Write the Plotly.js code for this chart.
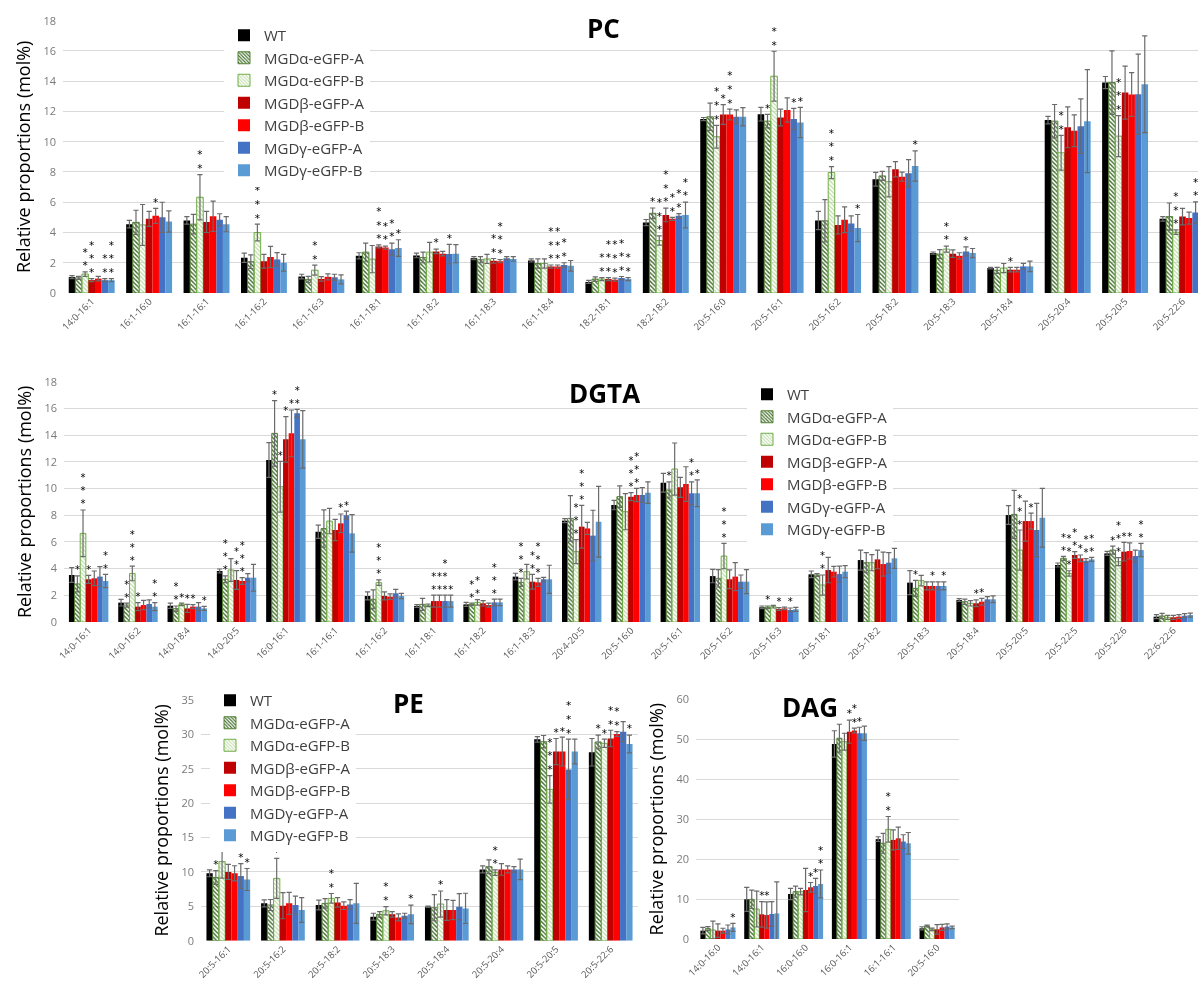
<!DOCTYPE html>
<html><head><meta charset="utf-8">
<script src="https://cdn.plot.ly/plotly-3.0.1.min.js"></script>
<style>
html,body{margin:0;padding:0;background:#fff}
#chart{width:1198px;height:988px;will-change:transform;opacity:0.999}
</style>
</head><body><div id="chart"></div>
<script>
// ---------- series ----------
const seriesNames = ['WT','MGDα-eGFP-A','MGDα-eGFP-B','MGDβ-eGFP-A','MGDβ-eGFP-B','MGDγ-eGFP-A','MGDγ-eGFP-B'];

// ---------- PC ----------
const pcCategories = ['14:0-16:1','16:1-16:0','16:1-16:1','16:1-16:2','16:1-16:3','16:1-18:1','16:1-18:2','16:1-18:3','16:1-18:4','18:2-18:1','18:2-18:2','20:5-16:0','20:5-16:1','20:5-16:2','20:5-18:2','20:5-18:3','20:5-18:4','20:5-20:4','20:5-20:5','20:5-22:6'];
const pcValues = [
  [1.05,4.55,4.8,2.33,1.09,2.46,2.48,2.3,2.15,0.73,4.66,11.5,11.82,4.79,7.52,2.64,1.65,11.43,13.91,4.9],
  [1.0,4.67,4.55,2.07,0.9,2.7,2.35,2.2,1.95,0.92,5.27,11.65,11.36,4.77,7.74,2.57,1.5,11.36,13.91,5.05],
  [1.25,4.5,6.33,4.0,1.51,2.24,2.7,2.25,1.95,0.92,3.47,10.33,14.33,7.96,7.36,2.9,1.65,9.27,10.37,4.02],
  [0.85,4.9,4.7,2.1,0.93,3.08,2.75,2.13,1.75,0.92,5.16,11.8,11.6,4.5,8.18,2.6,1.54,10.95,13.25,5.05],
  [0.95,5.1,5.07,2.38,1.07,3.0,2.6,2.1,1.75,0.88,4.9,11.8,12.1,4.84,7.69,2.46,1.54,10.73,13.12,4.95],
  [0.85,5.0,4.84,2.22,1.04,2.9,2.57,2.3,1.85,0.99,5.1,11.65,11.5,4.6,7.91,2.75,1.76,11.03,13.14,5.32],
  [0.85,4.73,4.55,2.0,0.9,2.97,2.6,2.25,1.8,0.92,5.16,11.65,11.27,4.29,8.4,2.64,1.76,11.36,13.8,5.4]
];
const pcErrors = [
  [0.1,0.25,0.25,0.3,0.15,0.2,0.15,0.1,0.1,0.1,0.2,0.1,0.45,0.6,0.45,0.07,0.05,0.25,0.4,0.15],
  [0.1,0.8,0.65,0.45,0.2,0.6,0.35,0.2,0.3,0.15,0.35,0.9,0.45,1.4,0.3,0.3,0.2,1.1,2.1,0.9],
  [0.15,1.35,1.5,0.55,0.33,0.9,0.65,0.3,0.3,0.1,0.3,0.75,1.65,0.4,1.0,0.2,0.3,1.15,1.35,0.15],
  [0.1,0.5,0.7,0.45,0.15,0.1,0.15,0.15,0.1,0.1,0.45,0.65,0.55,0.6,0.5,0.25,0.15,1.35,1.75,0.55],
  [0.15,0.5,1.0,0.7,0.2,0.1,0.15,0.1,0.1,0.1,0.1,0.35,0.8,0.85,0.3,0.2,0.15,1.05,1.45,0.4],
  [0.1,1.0,0.4,0.45,0.2,0.4,0.65,0.1,0.15,0.1,0.15,0.45,0.7,0.5,0.9,0.3,0.2,1.8,2.65,0.7],
  [0.1,0.7,0.5,0.55,0.3,0.55,0.6,0.15,0.35,0.1,0.85,0.6,1.0,0.9,1.0,0.3,0.35,3.4,3.2,0.5]
];
const pcStars = [
  [0,0,0,0,0,0,0,0,0,0,0,0,0,0,0,0,0,0,0,0],
  [0,0,0,0,0,0,0,0,0,0,1,0,1,0,0,0,0,0,0,0],
  [2,0,2,3,2,0,0,0,0,2,3,3,3,3,0,2,0,2,3,3],
  [3,0,0,0,0,3,1,2,3,3,3,1,0,0,0,0,1,0,0,0],
  [0,1,0,0,0,2,0,3,3,3,2,3,0,0,0,0,0,0,0,0],
  [2,0,0,0,0,2,1,0,2,3,2,0,1,0,0,1,0,0,0,2],
  [3,0,0,0,0,1,0,0,0,2,2,0,1,1,1,0,0,0,0,0]
];

// ---------- DGTA ----------
const dgtaCategories = ['14:0-16:1','14:0-16:2','14:0-18:4','14:0-20:5','16:0-16:1','16:1-16:1','16:1-16:2','16:1-18:1','16:1-18:2','16:1-18:3','20:4-20:5','20:5-16:0','20:5-16:1','20:5-16:2','20:5-16:3','20:5-18:1','20:5-18:2','20:5-18:3','20:5-18:4','20:5-20:5','20:5-22:5','20:5-22:6','22:6-22:6'];
const dgtaValues = [
  [3.52,1.45,1.22,3.82,12.13,6.76,1.95,1.2,1.32,3.4,7.59,8.76,10.43,3.44,1.1,3.57,4.64,2.95,1.65,8.01,4.27,5.14,0.4],
  [2.85,1.27,1.0,3.2,14.13,7.0,1.7,1.32,1.32,2.97,7.76,9.39,9.89,3.27,1.1,3.52,4.44,2.52,1.52,8.06,4.77,5.39,0.45],
  [6.64,3.64,1.32,3.9,10.13,7.56,2.95,1.25,1.47,3.77,5.27,8.26,11.46,4.94,1.15,2.77,4.44,3.1,1.4,5.39,3.64,4.52,0.35],
  [3.2,1.15,1.02,3.15,13.68,6.89,1.95,1.57,1.4,3.02,7.14,9.39,10.09,3.2,0.97,3.89,4.69,2.7,1.4,7.56,5.02,5.27,0.35],
  [3.27,1.27,1.15,3.07,14.13,7.39,1.9,1.57,1.27,2.97,7.01,9.51,10.33,3.4,1.02,3.77,4.34,2.7,1.52,7.56,4.77,5.32,0.4],
  [3.4,1.35,1.15,3.32,15.63,8.0,2.15,1.57,1.47,3.2,6.47,9.51,9.64,3.02,0.9,3.59,4.44,2.7,1.7,6.89,4.59,4.94,0.47],
  [3.07,1.15,1.02,3.32,13.68,6.64,1.95,1.57,1.47,3.2,7.51,9.69,9.64,3.02,0.95,3.77,4.77,2.7,1.7,7.81,4.69,5.39,0.52]
];
const dgtaErrors = [
  [0.55,0.25,0.2,0.15,1.3,0.5,0.3,0.1,0.15,0.25,0.15,0.35,0.7,0.5,0.1,0.25,0.75,0.9,0.1,0.7,0.15,0.15,0.15],
  [0.6,0.15,0.2,0.25,2.45,1.4,0.7,0.45,0.1,0.3,1.7,0.8,0.6,0.65,0.1,0.1,0.75,0.6,0.2,1.8,0.15,0.3,0.2],
  [1.75,0.55,0.1,0.85,1.9,0.95,0.2,0.1,0.2,0.55,0.9,1.35,1.95,0.95,0.1,0.75,0.6,0.4,0.2,1.5,0.2,0.3,0.15],
  [0.3,0.3,0.3,0.7,1.7,0.8,0.3,0.45,0.2,0.55,1.6,0.3,0.75,0.7,0.1,0.95,0.7,0.3,0.25,1.5,0.25,0.7,0.15],
  [0.55,0.35,0.15,0.25,1.75,0.7,0.2,0.45,0.15,0.3,0.45,0.5,1.3,1.05,0.1,0.4,0.9,0.3,0.25,0.6,0.25,0.6,0.15],
  [0.75,0.3,0.3,0.3,0.3,0.3,0.3,0.45,0.25,0.15,1.9,0.55,0.85,0.5,0.15,0.6,0.75,0.3,0.2,2.0,0.15,0.45,0.15],
  [0.5,0.3,0.15,1.0,2.15,1.4,0.2,0.45,0.25,1.05,2.65,0.8,1.0,0.9,0.15,0.45,0.75,0.3,0.25,2.2,0.15,0.5,0.15]
];
const dgtaStars = [
  [0,0,0,0,0,0,0,0,0,0,0,0,0,0,0,0,0,0,0,0,0,0,0],
  [1,2,2,3,1,0,0,0,2,3,0,0,1,0,1,0,0,1,0,0,2,1,0],
  [3,3,1,0,1,0,3,0,2,0,3,0,0,3,0,2,0,0,0,3,3,3,0],
  [1,1,1,2,1,0,0,2,0,2,3,3,0,0,1,0,0,0,1,0,2,1,0],
  [0,0,1,3,1,1,0,2,0,3,0,3,0,0,0,0,0,1,1,1,1,1,0],
  [0,0,0,0,3,1,0,3,3,0,0,0,2,0,1,0,0,0,0,0,2,0,0],
  [2,2,1,0,0,0,0,1,0,0,0,0,1,0,0,0,0,1,0,0,2,2,0]
];

// ---------- PE ----------
const peCategories = ['20:5-16:1','20:5-16:2','20:5-18:2','20:5-18:3','20:5-18:4','20:5-20:4','20:5-20:5','20:5-22:6'];
const peValues = [
  [9.8,5.43,5.19,3.49,4.94,10.37,29.28,27.4],
  [9.2,5.19,5.43,3.83,4.8,10.76,28.94,28.9],
  [11.5,9.06,6.16,4.36,5.33,9.9,22.0,28.7],
  [10.0,5.09,5.57,3.83,4.46,10.37,27.5,29.4],
  [9.8,5.43,5.09,3.39,4.46,10.37,27.5,30.05],
  [9.4,5.19,5.28,3.64,4.94,10.37,24.9,30.4],
  [8.9,4.46,5.43,3.83,4.7,10.37,27.5,28.6]
];
const peErrors = [
  [0.5,0.5,0.7,0.5,0.1,0.5,0.4,2.0],
  [1.0,0.8,0.7,0.4,1.9,1.0,0.9,1.0],
  [2.4,2.9,0.7,0.6,1.9,0.4,2.0,0.6],
  [1.1,1.9,0.7,0.4,1.5,0.85,1.9,1.2],
  [1.1,1.6,0.55,0.5,1.4,0.5,2.1,0.35],
  [1.8,1.3,0.7,0.35,1.9,0.4,4.4,1.45],
  [1.6,1.8,2.9,1.35,2.2,1.5,1.8,1.3]
];
const peStars = [
  [0,0,0,0,0,0,0,0],
  [1,0,0,0,0,0,0,1],
  [0,1,2,2,1,2,3,1],
  [0,0,0,0,0,0,1,2],
  [0,0,0,0,0,0,1,3],
  [1,0,0,0,0,0,3,0],
  [1,0,0,1,0,0,0,1]
];

// ---------- DAG ----------
const dagCategories = ['14:0-16:0','14:0-16:1','16:0-16:0','16:0-16:1','16:1-16:1','20:5-16:0'];
const dagValues = [
  [2.09,9.93,11.27,48.83,25.0,2.67],
  [2.6,9.93,11.85,50.25,23.96,3.26],
  [2.25,7.5,11.85,49.4,27.46,2.42],
  [2.09,6.18,12.27,51.9,24.8,2.42],
  [2.09,6.0,12.94,52.17,25.2,2.9],
  [2.4,6.26,13.27,51.5,24.4,3.1],
  [2.9,6.4,13.77,51.5,23.96,2.9]
];
const dagErrors = [
  [0.8,3.0,1.4,3.3,0.6,0.4],
  [0.5,2.3,1.4,3.5,2.5,0.2],
  [2.2,4.5,0.8,2.1,3.2,0.3],
  [1.7,3.2,5.4,2.9,2.5,1.2],
  [0.6,3.3,1.2,0.6,2.8,0.75],
  [1.1,3.1,1.9,1.5,1.7,0.7],
  [1.0,7.9,3.5,1.8,2.7,0.3]
];
const dagStars = [
  [0,0,0,0,0,0],
  [0,0,0,0,0,0],
  [0,0,0,0,2,0],
  [0,1,0,1,0,0],
  [0,1,1,2,0,0],
  [0,0,1,1,0,0],
  [1,0,2,0,0,0]
];

// ---------- styling ----------
const W = 1198, H = 988;
const seriesStyles = [
  {color:'#000000'},
  {color:'#d9e8cc', pattern:{shape:'\\', fgcolor:'#3d6b26', size:3, solidity:0.45}, line:{color:'#548235', width:1}},
  {color:'#f3f9ee', pattern:{shape:'\\', fgcolor:'#bcdba4', size:3, solidity:0.4}, line:{color:'#70ad47', width:1}},
  {color:'#c00000'},
  {color:'#ff0000'},
  {color:'#4472c4'},
  {color:'#5b9bd5'}
];

const panels = [
  {title:'PC', cats:pcCategories, vals:pcValues, errs:pcErrors, stars:pcStars, n:1, legend:'legend',
   xPx:[63,1198], yPx:[20.7,293], yMax:18, dtick:2, xMax:19.27, starFont:10.5, tickSize:9.5, titlePos:[603,28]},
  {title:'DGTA', cats:dgtaCategories, vals:dgtaValues, errs:dgtaErrors, stars:dgtaStars, n:2, legend:'legend2',
   xPx:[64,1198], yPx:[381.7,622], yMax:18, dtick:2, xMax:22.5, starFont:10, tickSize:9.5, titlePos:[604,393]},
  {title:'PE', cats:peCategories, vals:peValues, errs:peErrors, stars:peStars, n:3, legend:'legend3',
   xPx:[201,638], yPx:[700,940.7], yMax:35, dtick:5, xMax:7.5, starFont:10.5, tickSize:9.5, titlePos:[408,703]},
  {title:'DAG', cats:dagCategories, vals:dagValues, errs:dagErrors, stars:dagStars, n:4, legend:null,
   xPx:[696,959], yPx:[699.3,939], yMax:60, dtick:10, xMax:5.5, starFont:10.5, tickSize:9.5, titlePos:[810,707]}
];

const bw = 0.8 / seriesNames.length;
const traces = [];
const layout = {
  width: W, height: H,
  margin: {l:0, r:0, t:0, b:0},
  paper_bgcolor:'#ffffff', plot_bgcolor:'#ffffff',
  barmode: 'overlay',
  font: {family:'Open Sans, Noto Sans, sans-serif', color:'#404040'},
  annotations: [],
  showlegend: true
};

panels.forEach(p => {
  const suf = p.n === 1 ? '' : String(p.n);
  const starX = [], starY = [], starT = [];
  seriesNames.forEach((name, k) => {
    const xs = p.cats.map((c, i) => i + (k - 3) * bw);
    const st = seriesStyles[k];
    const marker = {color: st.color, line: st.line || {width:0}};
    if (st.pattern) marker.pattern = st.pattern;
    traces.push({
      type:'bar', name:name, x:xs, y:p.vals[k], width:bw,
      xaxis:'x'+suf, yaxis:'y'+suf,
      marker: marker,
      error_y: {type:'data', array:p.errs[k], visible:true, color:'#6a6a6a', thickness:1.2, width:2.6},
      legend: p.legend || 'legend',
      showlegend: !!p.legend,
      hovertemplate: name + ' %{customdata}: %{y}<extra></extra>',
      customdata: p.cats
    });
    p.stars[k].forEach((s, i) => {
      if (s > 0) {
        starX.push(xs[i]);
        starY.push(p.vals[k][i] + p.errs[k][i]);
        starT.push(new Array(s).fill('*').join('<br>'));
      }
    });
  });
  traces.push({
    type:'scatter', mode:'text', x:starX, y:starY, text:starT,
    textposition:'top center', textfont:{family:'DejaVu Sans', size:p.starFont, color:'#000000'},
    xaxis:'x'+suf, yaxis:'y'+suf, showlegend:false, hoverinfo:'skip', cliponaxis:true
  });

  layout['xaxis'+suf] = {
    domain:[p.xPx[0]/W, p.xPx[1]/W], range:[-0.5, p.xMax], anchor:'y'+suf,
    tickmode:'array', tickvals:p.cats.map((c,i)=>i), ticktext:p.cats, tickangle:-45,
    tickfont:{size:p.tickSize, color:'#595959'}, showgrid:false, zeroline:false, showline:false,
    ticks:'', automargin:false, fixedrange:true
  };
  layout['yaxis'+suf] = {
    domain:[1 - p.yPx[1]/H, 1 - p.yPx[0]/H], range:[0, p.yMax], anchor:'x'+suf, dtick:p.dtick,
    showgrid:true, gridcolor:'#d9d9d9', gridwidth:1, zeroline:false, showline:false, ticks:'',
    tickfont:{size:11, color:'#7a7a7a'}, ticklabelstandoff:6, automargin:false, fixedrange:true,
    title:{text:'Relative proportions (mol%)', font:{size:18, color:'#000000'}, standoff:8}
  };
  layout.annotations.push({
    text:'<b>'+p.title+'</b>', xref:'paper', yref:'paper', x:p.titlePos[0]/W, y:1 - p.titlePos[1]/H,
    xanchor:'center', yanchor:'middle', showarrow:false, font:{size:26, color:'#000000'}
  });
});

const legendBase = {xanchor:'left', yanchor:'top', bgcolor:'#ffffff', borderwidth:0,
  font:{size:15, color:'#404040'}, itemwidth:30, traceorder:'normal', tracegroupgap:0};
layout.legend = Object.assign({}, legendBase, {x:224/W, y:1 - 19/H});
layout.legend2 = Object.assign({}, legendBase, {x:747/W, y:1 - 378/H});
layout.legend3 = Object.assign({}, legendBase, {x:210/W, y:1 - 684/H});

Plotly.newPlot('chart', traces, layout, {displayModeBar:false});
</script>
</body></html>
